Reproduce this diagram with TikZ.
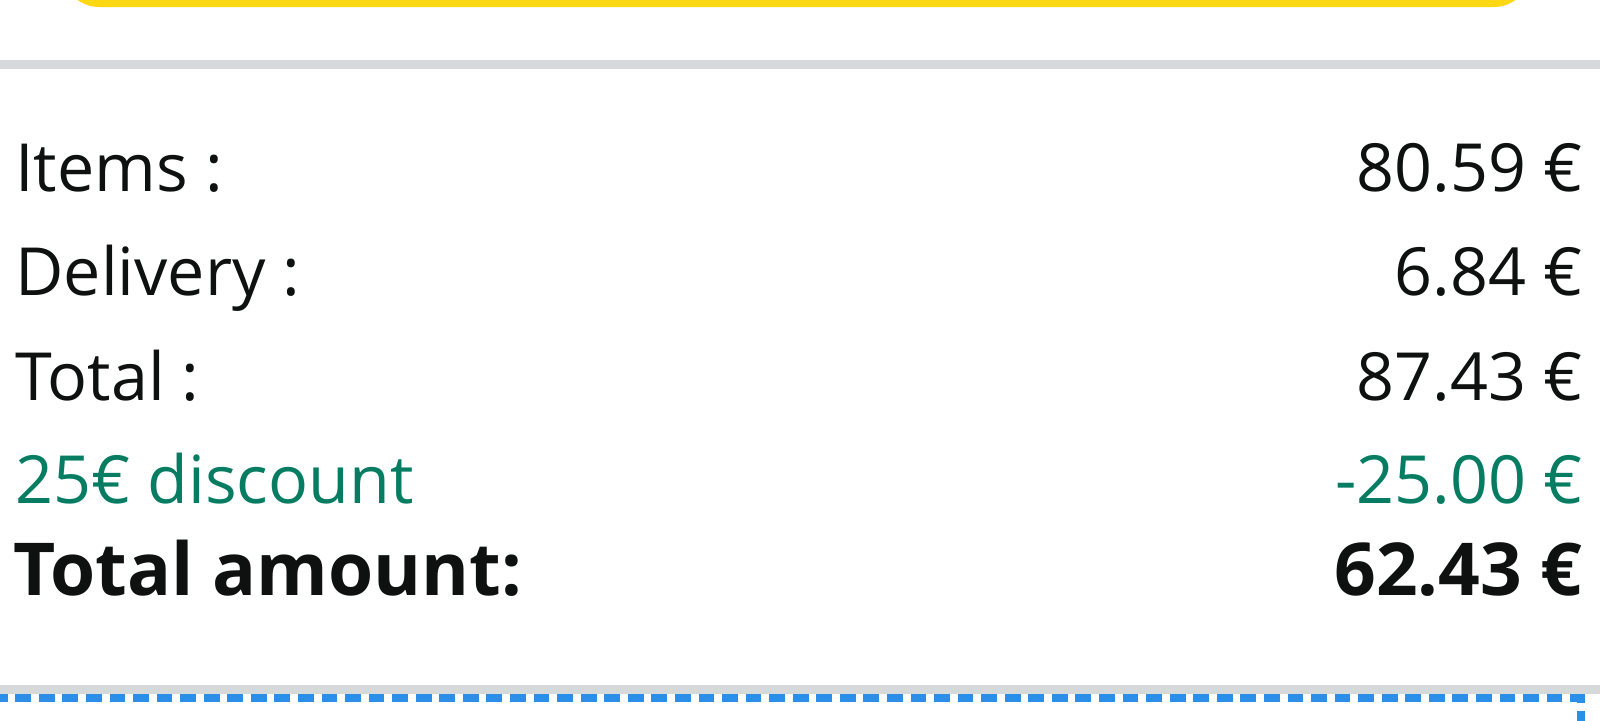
\documentclass[tikz,border=0pt]{standalone}
\usepackage{fontspec}
\setmainfont{Open Sans}
\definecolor{inkc}{HTML}{0F1111}
\definecolor{greenc}{HTML}{067D62}
\definecolor{grayc}{HTML}{D5D9D9}
\definecolor{yellowc}{HTML}{FFD814}
\definecolor{bluec}{HTML}{2B8FEA}
\tikzset{
  rowtext/.style={inner sep=0pt, text=inkc, font=\fontsize{33.2}{40}\selectfont},
  lbl/.style={rowtext, anchor=base west},
  val/.style={rowtext, anchor=base east},
  disc/.style={text=greenc},
  totl/.style={font=\fontsize{36.5}{44}\selectfont\bfseries},
  divider/.style={fill=grayc, draw=none},
  dashbox/.style={draw=bluec, line width=4pt, dash pattern=on 7.9pt off 3.88pt}
}
\begin{document}
\begin{tikzpicture}[x=0.5pt,y=-0.5pt]
\useasboundingbox (0,0) rectangle (1600,720);
\begin{scope}
\clip (0,0) rectangle (1600,720);
% yellow button bottom edge
\fill[yellowc, rounded corners=18pt] (63,-80) rectangle (1530,7);
% dividers
\fill[divider] (0,60) rectangle (1600,69);
\fill[divider] (0,685) rectangle (1600,694);
% dashed blue box edge
\coordinate (d0) at (-8.3,698);
\coordinate (d1) at (1581,698);
\coordinate (d2) at (1581,780);
\draw[dashbox] (d0) -- (d1) -- (d2);
\end{scope}
% rows
\node[lbl] (l1) at (15,191) {Items :};
\node[val] (v1) at (1583,191) {80.59 €};
\node[lbl] (l2) at (15,295) {Delivery :};
\node[val] (v2) at (1583,295) {6.84 €};
\node[lbl] (l3) at (15,400) {Total :};
\node[val] (v3) at (1583,400) {87.43 €};
\node[lbl, disc] (l4) at (15,503) {25€ discount};
\node[val, disc] (v4) at (1583,503) {-25.00 €};
\node[lbl, totl] (l5) at (13,595) {Total amount:};
\node[val, totl] (v5) at (1583,595) {62.43 €};
\end{tikzpicture}
\end{document}
